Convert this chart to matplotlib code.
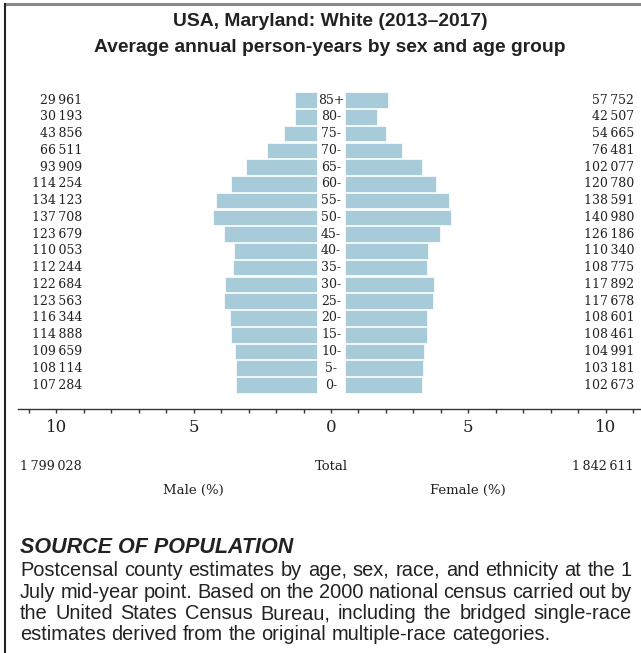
import matplotlib
matplotlib.use("Agg")
import matplotlib.pyplot as plt
from matplotlib import font_manager
from matplotlib.lines import Line2D
from matplotlib.ticker import MultipleLocator, FixedLocator, FuncFormatter
from matplotlib.transforms import blended_transform_factory

# Data
ages = ['0-', '5-', '10-', '15-', '20-', '25-', '30-', '35-', '40-', '45-',
        '50-', '55-', '60-', '65-', '70-', '75-', '80-', '85+']
male = [107284, 108114, 109659, 114888, 116344, 123563, 122684, 112244, 110053,
        123679, 137708, 134123, 114254, 93909, 66511, 43856, 30193, 29961]
female = [102673, 103181, 104991, 108461, 108601, 117678, 117892, 108775, 110340,
          126186, 140980, 138591, 120780, 102077, 76481, 54665, 42507, 57752]
male_total = 1799028
female_total = 1842611

title1 = "USA, Maryland: White (2013\u20132017)"
title2 = "Average annual person-years by sex and age group"
source_head = "SOURCE OF POPULATION"
source_lines = [
    "Postcensal county estimates by age, sex, race, and ethnicity at the 1",
    "July mid-year point. Based on the 2000 national census carried out by",
    "the United States Census Bureau, including the bridged single-race",
    "estimates derived from the original multiple-race categories.",
]

W, H = 641, 653
BAR = "#a7cbd8"
SERIF = "DejaVu Serif"

installed = {f.name for f in font_manager.fontManager.ttflist}
SANS = next(f for f in ["Liberation Sans", "Roboto", "DejaVu Sans"] if f in installed)


def fmt(v):
    return f"{v:,}".replace(",", "\u2009")


grand = male_total + female_total
male_pct = [v / grand * 100 for v in male]
female_pct = [v / grand * 100 for v in female]
gap = 0.5
ypos = list(range(len(ages)))

fig = plt.figure(figsize=(W / 100, H / 100), dpi=100)
ax = fig.add_axes([18 / W, (H - 409) / H, 1 - 18 / W, (409 - 88) / H])

ax.barh(ypos, male_pct, left=[-gap - v for v in male_pct], height=0.93,
        color=BAR, edgecolor="white", linewidth=0.5)
ax.barh(ypos, female_pct, left=gap, height=0.93,
        color=BAR, edgecolor="white", linewidth=0.5)

ax.set_xlim(-11.4, 11.29)
ax.set_ylim(-1.43, 17.72)

trans = blended_transform_factory(ax.transAxes, ax.transData)
for i, age in enumerate(ages):
    ax.text(0, i, age, ha="center", va="center", fontsize=9, family=SERIF, color="#222")
    ax.text((82 - 18) / (W - 18), i, fmt(male[i]), transform=trans,
            ha="right", va="center", fontsize=9, family=SERIF, color="#222")
    ax.text((634 - 18) / (W - 18), i, fmt(female[i]), transform=trans,
            ha="right", va="center", fontsize=9, family=SERIF, color="#222")

for s in ["top", "left", "right"]:
    ax.spines[s].set_visible(False)
ax.spines["bottom"].set_color("#333")
ax.spines["bottom"].set_linewidth(1.0)
ax.set_yticks([])
ax.xaxis.set_major_locator(FixedLocator([-10, -5, 0, 5, 10]))
ax.xaxis.set_minor_locator(MultipleLocator(1))
ax.xaxis.set_major_formatter(FuncFormatter(lambda v, p: f"{abs(v):g}"))
ax.tick_params(axis="x", which="both", length=3, width=1, color="#333",
               direction="out", pad=4, labelsize=12, labelcolor="#222")
for lab in ax.get_xticklabels():
    lab.set_family(SERIF)

# totals and axis captions
fig.text(20 / W, 1 - 467 / H, fmt(male_total), ha="left", va="center",
         fontsize=9.2, family=SERIF, color="#222")
fig.text(331 / W, 1 - 467 / H, "Total", ha="center", va="center",
         fontsize=9.5, family=SERIF, color="#222")
fig.text(634 / W, 1 - 467 / H, fmt(female_total), ha="right", va="center",
         fontsize=9.2, family=SERIF, color="#222")
fig.text(193 / W, 1 - 490 / H, "Male (%)", ha="center", va="center",
         fontsize=9.5, family=SERIF, color="#222")
fig.text(468 / W, 1 - 490 / H, "Female (%)", ha="center", va="center",
         fontsize=9.5, family=SERIF, color="#222")

fig.canvas.draw()
rend = fig.canvas.get_renderer()


def text_width(s, size, **kw):
    t = fig.text(0, 0, s, fontsize=size, **kw)
    w = t.get_window_extent(rend).width
    t.remove()
    return w


def fit_size(s, width, **kw):
    return 10 * width / text_width(s, 10, **kw)


# titles
tsize = fit_size(title2, 473, family=SANS, weight="bold")
fig.text(330 / W, 1 - 22 / H, title1, ha="center", va="center",
         fontsize=tsize, family=SANS, weight="bold", color="#222")
fig.text(330 / W, 1 - 47 / H, title2, ha="center", va="center",
         fontsize=tsize, family=SANS, weight="bold", color="#222")

# source block
hsize = fit_size(source_head, 273, family=SANS, weight="bold", style="italic")
fig.text(20 / W, 1 - 553 / H, source_head, ha="left", va="baseline",
         fontsize=hsize, family=SANS, weight="bold", style="italic", color="#222")

bsize = fit_size(source_lines[0], 610, family=SANS)
space_w = text_width("x x", bsize, family=SANS) - text_width("xx", bsize, family=SANS)

x0, x1 = 20, 632
for n, line in enumerate(source_lines):
    y = 576 + n * 21.5
    words = line.split()
    texts = [fig.text(0, 0, w, fontsize=bsize, family=SANS, color="#222",
                      va="baseline") for w in words]
    widths = [tt.get_window_extent(rend).width for tt in texts]
    if n == len(source_lines) - 1:
        g = space_w
    else:
        g = (x1 - x0 - sum(widths)) / (len(words) - 1)
    x = x0
    for tt, w in zip(texts, widths):
        tt.set_position((x / W, 1 - y / H))
        x += w + g

# frame lines
fig.add_artist(Line2D([5 / W, 1], [1 - 4 / H, 1 - 4 / H], color="#8a8a8a", lw=2.2))
fig.add_artist(Line2D([5 / W, 5 / W], [0, 1 - 4 / H], color="#222", lw=1.5))

fig.savefig("out.png", dpi=100)
